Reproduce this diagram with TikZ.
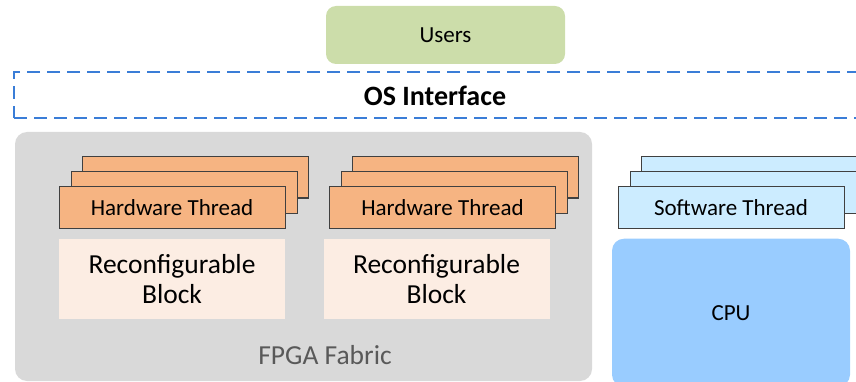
\documentclass[tikz,border=0pt]{standalone}
\usepackage{fontspec}
\setmainfont{Carlito}
\usepackage{xcolor}
\usetikzlibrary{positioning}

\definecolor{usergreen}{RGB}{204,221,170}
\definecolor{hworange}{RGB}{246,180,130}
\definecolor{swblue}{RGB}{204,236,255}
\definecolor{cpublue}{RGB}{153,204,255}
\definecolor{blockpeach}{RGB}{252,237,227}
\definecolor{fabricgray}{RGB}{217,217,217}
\definecolor{labelgray}{RGB}{89,89,89}
\definecolor{ifblue}{RGB}{58,125,215}
\definecolor{edgegray}{RGB}{64,64,64}

\begin{document}
\begin{tikzpicture}[x=1pt,y=-1pt]

                \def\cw{226pt}
                \def\ch{41pt}
                \def\g{10pt}

                % Cards of a stack are shifted up and right behind the front one
                \tikzset{
                    card/.style={draw=edgegray, line width=1pt, minimum width=\cw,
                        minimum height=\ch, inner sep=0pt,
                        font=\fontsize{23}{27}\selectfont},
                    hwcard/.style={card, fill=hworange},
                    swcard/.style={card, fill=swblue},
                    block/.style={fill=blockpeach, minimum width=\cw,
                        minimum height=80pt, inner sep=0pt, align=center,
                        font=\fontsize{27.5}{30}\selectfont},
                }

                \useasboundingbox (0,0) rectangle (856,382);

                \node (users) [fill=usergreen, rounded corners=10pt,
                    minimum width=239pt, minimum height=58pt,
                    font=\fontsize{23}{27}\selectfont] at (445.5,35) {Users};

                % OS interface band runs off the right edge
                \node (osbox) [draw=ifblue, line width=2pt,
                    dash pattern=on 13pt off 7pt, minimum width=870pt,
                    minimum height=46pt] at (449,95.5) {};
                \node (oslabel) [font=\fontsize{28}{32}\selectfont\bfseries]
                    at (435,96) {OS Interface};

                % FPGA side
                \node (fabric) [fill=fabricgray, rounded corners=12pt,
                    minimum width=577pt, minimum height=249pt] at (303.5,256.5) {};
                \node (fabriclabel) [text=labelgray,
                    font=\fontsize{27.5}{32}\selectfont] at (325,355) {FPGA Fabric};

                \coordinate (hwApos) at (172,207.5);
                \coordinate (hwBpos) at (442.5,207.5);
                \coordinate (swpos) at (731,207.5);

                \node (hwA3) [hwcard] at ([shift={(23,-30)}]hwApos) {};
                \node (hwA2) [hwcard] at ([shift={(12,-15)}]hwApos) {};
                \node (hwA) [hwcard] at (hwApos) {Hardware Thread};

                \node (hwB3) [hwcard] at ([shift={(23,-30)}]hwBpos) {};
                \node (hwB2) [hwcard] at ([shift={(12,-15)}]hwBpos) {};
                \node (hwB) [hwcard] at (hwBpos) {Hardware Thread};

                \node (recA) [block, below=\g of hwA] {Reconfigurable\\Block};
                \node (recB) [block, below=\g of hwB, xshift=-6pt]
                    {Reconfigurable\\Block};

                % CPU side
                \node (sw3) [swcard] at ([shift={(23,-30)}]swpos) {};
                \node (sw2) [swcard] at ([shift={(12,-15)}]swpos) {};
                \node (sw) [swcard] at (swpos) {Software Thread};

                \node (cpu) [fill=cpublue, rounded corners=12pt,
                    minimum width=238pt, minimum height=148pt,
                    font=\fontsize{23}{27}\selectfont, below=\g of sw] {CPU};

\end{tikzpicture}
\end{document}
